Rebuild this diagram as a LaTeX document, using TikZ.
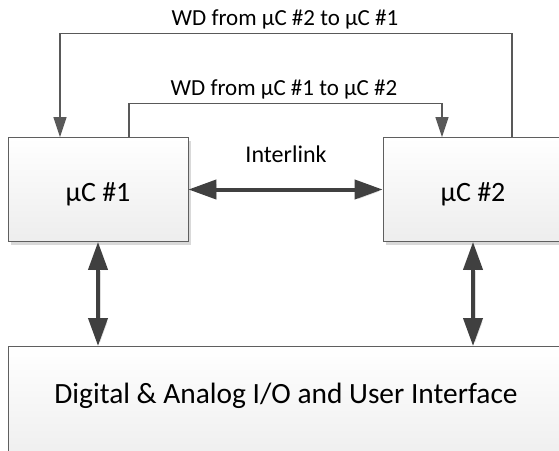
\documentclass[tikz,border=0pt]{standalone}
\usepackage{fontspec}
\setmainfont{Carlito}
\usetikzlibrary{positioning, arrows.meta, calc, shadows}
\definecolor{ink}{HTML}{000000}
\definecolor{edge}{HTML}{5F5F5F}
\definecolor{wire}{HTML}{404040}
\definecolor{thin}{HTML}{595959}
\tikzset{
  every node/.style = {text=ink},
  mcbox/.style   = {draw=edge, line width=0.8pt, top color=white, bottom color=black!7,
                    drop shadow={shadow xshift=3pt, shadow yshift=-3pt, fill=black!15, opacity=1},
                    inner sep=0pt},
  mclab/.style   = {font=\fontsize{28}{30}\selectfont, anchor=base, inner sep=0pt},
  iolab/.style   = {font=\fontsize{29.4}{31}\selectfont, anchor=base, inner sep=0pt},
  wdlab/.style   = {font=\fontsize{23}{25}\selectfont, anchor=base, inner sep=0pt},
  linklab/.style = {font=\fontsize{24}{26}\selectfont, anchor=base, inner sep=0pt},
  bustip/.style  = {{Triangle[length=28pt,width=19pt]}-{Triangle[length=28pt,width=19pt]}},
  bus/.style     = {bustip, draw=wire, line width=4pt,
                    preaction={bustip, draw=black!13, transform canvas={shift={(2pt,-2pt)}}}},
  wd/.style      = {-{Triangle[length=20pt,width=13pt]}, draw=thin, line width=1.2pt},
}

\begin{document}
\begin{tikzpicture}[x=1pt, y=-1pt]
\useasboundingbox (0,0) rectangle (559,450);

\node[mcbox, minimum width=180pt, minimum height=104pt] (u1) at (98,189.5) {};
\node[mcbox, minimum width=180pt, minimum height=104pt] (u2) at (473,189.5) {};
\node[mcbox, minimum width=556pt, minimum height=120pt, anchor=north] (io) at (286,346) {};

\node[mclab] (u1lab) at (98,201) {µC \#1};
\node[mclab] (u2lab) at (473,201) {µC \#2};
\node[iolab] (iolab) at (286,403) {Digital \& Analog I/O and User Interface};

\draw[bus] (u1) -- (u2);
\draw[bus] (u1.south) -- (u1.south |- io.north);
\draw[bus] (u2.south) -- (u2.south |- io.north);

\draw[wd] ([xshift=39pt]u2.north) -- ++(0,-104) -| ([xshift=-38pt]u1.north);
\draw[wd] ([xshift=31pt]u1.north) -- ++(0,-34) -| ([xshift=-31pt]u2.north);

\node[wdlab] (wd21) at (285,25) {WD from µC \#2 to µC \#1};
\node[wdlab] (wd12) at (284,95) {WD from µC \#1 to µC \#2};
\node[linklab] (link) at (286,162) {Interlink};
\end{tikzpicture}
\end{document}
